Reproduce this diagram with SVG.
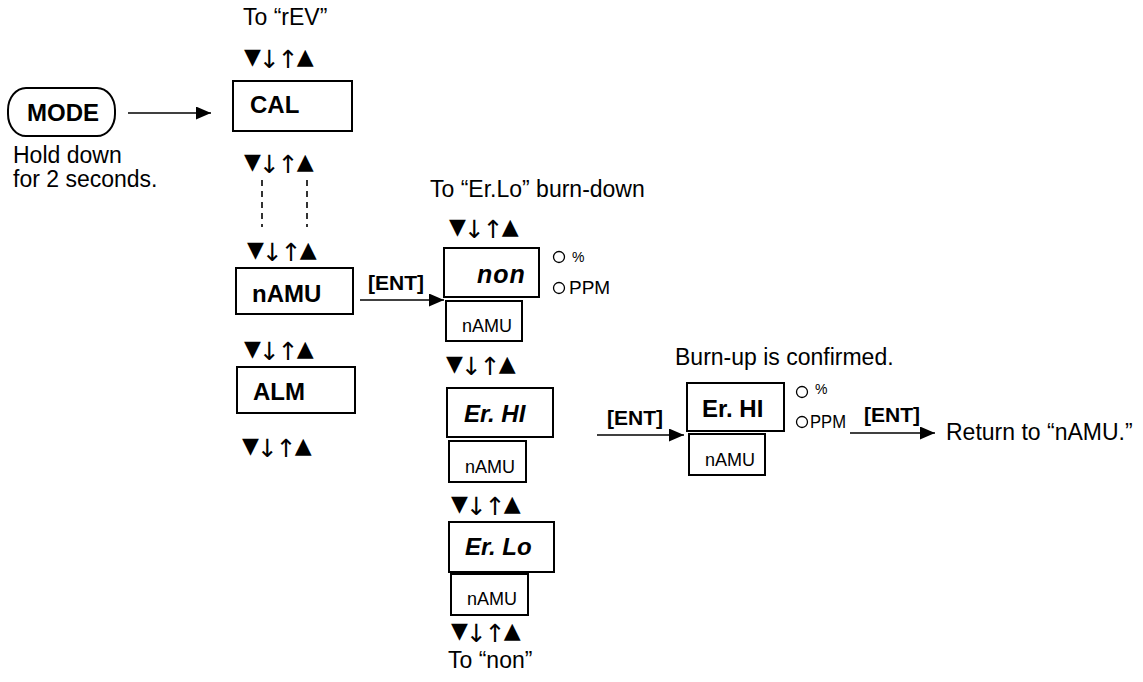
<svg xmlns="http://www.w3.org/2000/svg" width="1143" height="682" viewBox="0 0 1143 682">
<defs>
<marker id="ah" viewBox="0 0 15 13" refX="15" refY="6.5" markerWidth="15" markerHeight="13" markerUnits="userSpaceOnUse" orient="auto">
<path d="M0,0 L15,6.5 L0,13 Z" fill="#000"/>
</marker>
</defs>
<style>
text{font-family:"Liberation Sans",Arial,sans-serif;fill:#000}
.t{font-size:23px}
.b{font-size:24px;font-weight:bold}
.bi{font-size:24px;font-weight:bold;font-style:italic}
.s{font-size:18px}
.e{font-size:21px;font-weight:bold}
.ar{font-family:"DejaVu Sans",sans-serif;font-size:22px;letter-spacing:-2px}
.aw{font-size:25px}
.box{fill:#fff;stroke:#000;stroke-width:2}
.ln{stroke:#000;stroke-width:1.6;fill:none}
.dash{stroke:#000;stroke-width:1.6;stroke-dasharray:6 5;fill:none}
.c{fill:none;stroke:#000;stroke-width:1.3}
</style>
<rect width="1143" height="682" fill="#fff"/>

<g id="connectors">
<line class="ln" x1="128" y1="113" x2="211" y2="113" marker-end="url(#ah)"/>
<line class="dash" x1="262" y1="180" x2="262" y2="227"/>
<line class="dash" x1="307" y1="180" x2="307" y2="227"/>
<line class="ln" x1="360" y1="300" x2="444" y2="300" marker-end="url(#ah)"/>
<line class="ln" x1="597" y1="435" x2="684" y2="435" marker-end="url(#ah)"/>
<line class="ln" x1="850" y1="433" x2="935" y2="433" marker-end="url(#ah)"/>
</g>

<g id="labels">
<text class="t" x="243" y="25">To “rEV”</text>
<text class="ar" x="244" y="64">▼<tspan class="aw" dy="4">↓↑</tspan><tspan dy="-4">▲</tspan></text>
<text class="ar" x="244" y="169">▼<tspan class="aw" dy="4">↓↑</tspan><tspan dy="-4">▲</tspan></text>
<text class="ar" x="247" y="257">▼<tspan class="aw" dy="4">↓↑</tspan><tspan dy="-4">▲</tspan></text>
<text class="ar" x="244" y="356">▼<tspan class="aw" dy="4">↓↑</tspan><tspan dy="-4">▲</tspan></text>
<text class="ar" x="242" y="453">▼<tspan class="aw" dy="4">↓↑</tspan><tspan dy="-4">▲</tspan></text>
<text class="t" x="13" y="163">Hold down</text>
<text class="t" x="13" y="187">for 2 seconds.</text>
<text class="e" x="368" y="290">[ENT]</text>
<text class="t" x="430" y="197">To “Er.Lo” burn-down</text>
<text class="ar" x="449" y="234">▼<tspan class="aw" dy="4">↓↑</tspan><tspan dy="-4">▲</tspan></text>
<text class="ar" x="446" y="371">▼<tspan class="aw" dy="4">↓↑</tspan><tspan dy="-4">▲</tspan></text>
<text class="ar" x="451" y="511">▼<tspan class="aw" dy="4">↓↑</tspan><tspan dy="-4">▲</tspan></text>
<text class="ar" x="451" y="638">▼<tspan class="aw" dy="4">↓↑</tspan><tspan dy="-4">▲</tspan></text>
<text class="t" x="448" y="668">To “non”</text>
<text class="t" x="675" y="365">Burn-up is confirmed.</text>
<text class="e" x="607" y="425">[ENT]</text>
<text class="e" x="864" y="422">[ENT]</text>
<text class="t" x="946" y="440">Return to “nAMU.”</text>
</g>

<g id="mode">
<rect class="box" x="8" y="88" width="107" height="48" rx="18" ry="22"/>
<text class="b" x="27" y="121">MODE</text>
</g>

<g id="cal">
<rect class="box" x="233" y="81" width="119" height="50"/>
<text class="b" x="250" y="113">CAL</text>
</g>

<g id="namu">
<rect class="box" x="236" y="268" width="117" height="46"/>
<text class="b" x="252" y="302">nAMU</text>
</g>

<g id="alm">
<rect class="box" x="237" y="367" width="118" height="46"/>
<text class="b" x="253" y="400">ALM</text>
</g>

<g id="non">
<rect class="box" x="444" y="248" width="95" height="49"/>
<text class="bi" x="477" y="283" style="font-size:25px;letter-spacing:1px">non</text>
<rect class="box" x="446" y="301" width="76" height="40"/>
<text class="s" x="462" y="332">nAMU</text>
<circle class="c" cx="559" cy="257" r="5.5"/>
<text x="572" y="262" style="font-size:14px">%</text>
<circle class="c" cx="559" cy="288" r="5.5"/>
<text x="569" y="294" style="font-size:19px">PPM</text>
</g>

<g id="erhi">
<rect class="box" x="447" y="388" width="106" height="49"/>
<text class="bi" x="464" y="422">Er. HI</text>
<rect class="box" x="449" y="441" width="77" height="41"/>
<text class="s" x="465" y="473">nAMU</text>
</g>

<g id="erlo">
<rect class="box" x="449" y="522" width="105" height="50"/>
<text class="bi" x="465" y="555">Er. Lo</text>
<rect class="box" x="451" y="574" width="77" height="41"/>
<text class="s" x="467" y="605">nAMU</text>
</g>

<g id="erhi-confirmed">
<rect class="box" x="687" y="383" width="97" height="48"/>
<text class="b" x="702" y="417">Er. HI</text>
<rect class="box" x="689" y="434" width="76" height="41"/>
<text class="s" x="705" y="466">nAMU</text>
<circle class="c" cx="802" cy="392" r="5.5"/>
<text x="815" y="394" style="font-size:14px">%</text>
<circle class="c" cx="802" cy="422" r="5.5"/>
<text x="810" y="428" style="font-size:19px" textLength="36" lengthAdjust="spacingAndGlyphs">PPM</text>
</g>
</svg>
